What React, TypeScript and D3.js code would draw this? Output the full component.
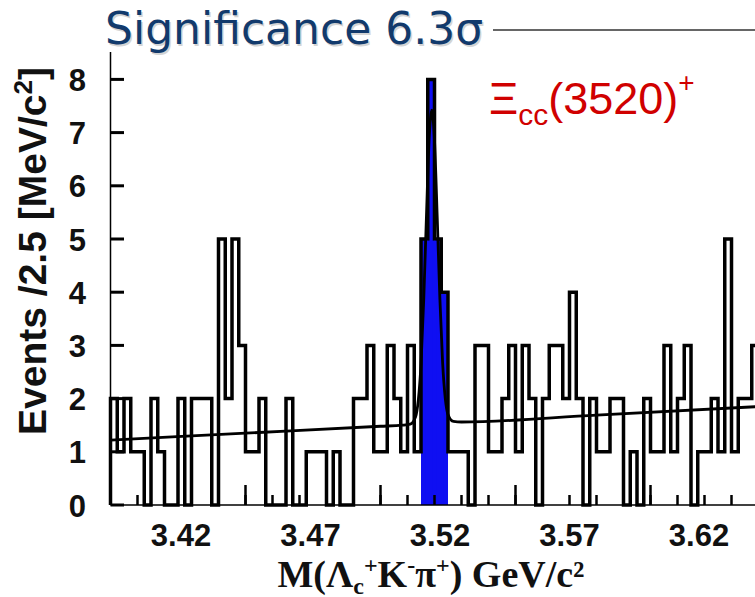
import React from 'react';
import * as d3 from 'd3';

// histogram: 2.5 MeV bins starting at 3.400 GeV
const binStart = 3.4;
const binWidth = 0.0025;
const counts = [
  2, 1, 2, 1, 1, 0, 2, 1, 0, 0, 2, 0, 2, 2, 2, 0,
  5, 2, 5, 3, 1, 1, 2, 0, 0, 0, 2, 0, 0, 1, 1, 1,
  0, 1, 0, 0, 2, 2, 3, 1, 1, 3, 2, 1, 3, 1, 5, 8,
  5, 4, 1, 1, 1, 0, 3, 3, 1, 1, 2, 3, 1, 3, 2, 0,
  2, 3, 3, 2, 4, 2, 0, 2, 1, 1, 2, 2, 0, 1, 0, 2,
  1, 1, 3, 1, 2, 3, 0, 1, 1, 2, 1, 5, 1, 2, 2, 3,
];
// bins shaded as signal
const signalBins = [46, 47, 48, 49];

// fit (background + gaussian)
const fitMass = [3.4, 3.45, 3.5, 3.508, 3.511, 3.513, 3.514, 3.515, 3.516, 3.517, 3.518, 3.519, 3.52, 3.521, 3.522, 3.523, 3.524, 3.525, 3.527, 3.53, 3.58, 3.64];
const fitValue = [1.22, 1.35, 1.48, 1.5, 1.52, 1.66, 1.97, 2.65, 3.85, 5.4, 6.85, 7.42, 6.85, 5.42, 3.87, 2.68, 2.0, 1.7, 1.57, 1.56, 1.69, 1.85];

const yTicks = [0, 1, 2, 3, 4, 5, 6, 7, 8];
const xMajorTicks = [3.4, 3.45, 3.5, 3.55, 3.6];
const xTickLabels = ['3.42', '3.47', '3.52', '3.57', '3.62'];

const W = 755;
const H = 597;

export default function App() {
  const x = d3.scaleLinear().domain([3.4, 3.64]).range([110.5, 758.5]);
  const y = d3.scaleLinear().domain([0, 8]).range([505, 79.4]);
  // the printed labels sit on their own spacing
  const labelX = d3.scaleLinear().domain([3.42, 3.62]).range([181, 699]);

  const edges = counts.map((_, i) => binStart + i * binWidth);
  const pts: [number, number][] = [[edges[0], 0]];
  counts.forEach((c, i) => pts.push([edges[i], c]));
  pts.push([binStart + counts.length * binWidth, counts[counts.length - 1]]);
  pts.push([binStart + counts.length * binWidth, 0]);

  const histLine = d3.line<[number, number]>()
    .x(d => x(d[0]))
    .y(d => y(d[1]))
    .curve(d3.curveStepAfter);

  const fitLine = d3.line<number>()
    .x(d => x(fitMass[d]))
    .y(d => y(fitValue[d]))
    .curve(d3.curveMonotoneX);

  const minorTicks = d3.range(0, 25).map(i => 3.4 + i * 0.01);
  const sw = 3.5;

  const tickFont = '"Liberation Sans", Arial, sans-serif';
  const titleFont = '"DejaVu Sans", Verdana, sans-serif';
  const blue = '#0f0ff2';

  return (
    <svg width={W} height={H} style={{ position: 'absolute', left: 0, top: 0, background: '#fff' }}>
      {/* title */}
      <text x={106.5} y={45.5} fontFamily={titleFont} fontSize={44} fill="#d4d4d4">
        Significance 6.3σ
      </text>
      <text x={105} y={44} fontFamily={titleFont} fontSize={44} fill="#123a6c">
        Significance 6.3σ
      </text>
      <line x1={493} x2={W} y1={30} y2={30} stroke="#333" strokeWidth={1.5} />

      {/* signal fill */}
      {signalBins.map(i => (
        <rect key={i}
          x={x(edges[i])}
          y={y(counts[i])}
          width={x(edges[i] + binWidth) - x(edges[i])}
          height={y(0) - y(counts[i])}
          fill={blue} />
      ))}

      {/* histogram */}
      <path d={histLine(pts) || ''} fill="none" stroke="#000" strokeWidth={sw} />

      {/* hide inner bin walls inside the shaded region */}
      {signalBins.slice(1).map(i => {
        const low = Math.min(counts[i - 1], counts[i]);
        return (
          <rect key={'c' + i}
            x={x(edges[i]) - sw / 2 - 0.5}
            y={y(low) + sw / 2}
            width={sw + 1}
            height={y(0) - y(low) - sw / 2}
            fill={blue} />
        );
      })}

      {/* fit */}
      <path d={fitLine(d3.range(fitMass.length)) || ''} fill="none" stroke="#000" strokeWidth={2.8} />

      {/* axes */}
      <line x1={110.5} x2={W} y1={505} y2={505} stroke="#000" strokeWidth={1.5} />
      <line x1={110.5} x2={110.5} y1={505} y2={52} stroke="#000" strokeWidth={1.5} />
      {yTicks.map(t => (
        <g key={t}>
          <line x1={110.5} x2={124} y1={y(t)} y2={y(t)} stroke="#000" strokeWidth={3} />
          <text x={86} y={y(t) + 11.5} textAnchor="end" fontFamily={tickFont} fontWeight="bold" fontSize={31} fill="#111">{t}</text>
        </g>
      ))}
      {minorTicks.map(t => (
        <line key={t} x1={x(t)} x2={x(t)} y1={505} y2={495} stroke="#000" strokeWidth={2.5} />
      ))}
      {xMajorTicks.map(t => (
        <line key={t} x1={x(t)} x2={x(t)} y1={505} y2={485} stroke="#000" strokeWidth={2.5} />
      ))}
      {xTickLabels.map(l => (
        <text key={l} x={labelX(+l)} y={546} textAnchor="middle" fontFamily={tickFont} fontWeight="bold" fontSize={31} fill="#111">{l}</text>
      ))}

      {/* y title */}
      <text transform="translate(46,251) rotate(-90)" textAnchor="middle" fontFamily={tickFont} fontWeight="bold" fontSize={39} fill="#111">
        Events /2.5 [MeV/c<tspan dy={-14} fontSize={26}>2</tspan><tspan dy={14}>]</tspan>
      </text>

      {/* x title */}
      <text x={431} y={587} textAnchor="middle" fontFamily='"Liberation Serif", "Times New Roman", serif' fontWeight="bold" fontSize={38} fill="#111">
        M(Λ<tspan dy={7} fontSize={24}>c</tspan><tspan dy={-21} fontSize={24}>+</tspan><tspan dy={14}>K</tspan><tspan dy={-14} fontSize={24}>-</tspan><tspan dy={14}>π</tspan><tspan dy={-14} fontSize={24}>+</tspan><tspan dy={14}>) GeV/c²</tspan>
      </text>

      {/* state label */}
      <text x={489} y={114} fontFamily={tickFont} fontSize={45} fill="#d00000">
        Ξ<tspan dy={11} fontSize={30}>cc</tspan><tspan dy={-11}>(3520)</tspan><tspan dy={-22} fontSize={28}>+</tspan>
      </text>
    </svg>
  );
}
